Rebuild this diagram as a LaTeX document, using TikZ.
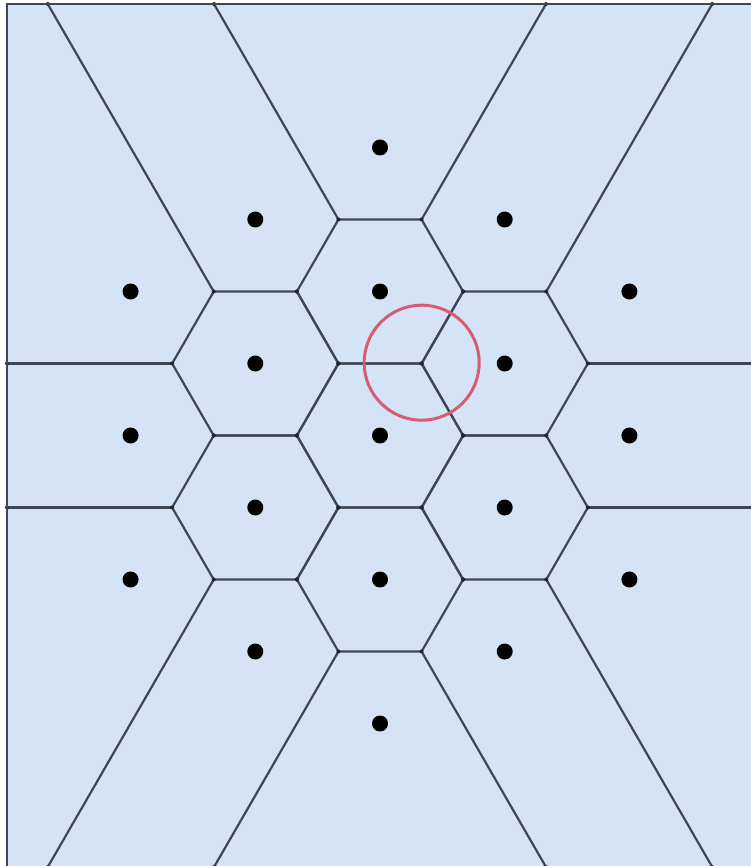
\documentclass[tikz,border=0pt]{standalone}
\definecolor{cellfill}{RGB}{213,227,246}
\definecolor{edgecol}{RGB}{62,71,86}
\definecolor{circcol}{RGB}{214,92,112}
\begin{document}
\begin{tikzpicture}[x=1pt,y=-1pt,
  edge/.style={draw=edgecol,line width=2.2pt,line cap=round,line join=round},
  border/.style={draw=edgecol,line width=2.4pt},
  site/.style={circle,fill=black,inner sep=0pt,minimum size=16pt},
  vtx/.style={circle,fill=black!85,inner sep=0pt,minimum size=4pt},
  ring/.style={draw=circcol,line width=3pt}]
\def\cx{380}\def\cy{435.5}\def\d{144}
\pgfmathsetmacro\h{\d*sqrt(3)/2}
\pgfmathsetmacro\R{\d/sqrt(3)}
\pgfmathsetmacro\rt{1/sqrt(3)}
\def\xl{7}\def\xr{753}\def\yt{4}\def\yb{867}
\useasboundingbox (0,0) rectangle (750,866);
\fill[cellfill] (\xl,\yt) rectangle (\xr,\yb);
% bounded hexagonal cells
\foreach \i/\j [count=\k] in {0/0,0/-1,0/1,-1/-0.5,-1/0.5,1/-0.5,1/0.5}{
  \pgfmathsetmacro\px{\cx+\i*\h}
  \pgfmathsetmacro\py{\cy+\j*\d}
  \coordinate (h\k-a) at ({\px+\R},{\py});
  \coordinate (h\k-b) at ({\px+\R/2},{\py+\d/2});
  \coordinate (h\k-c) at ({\px-\R/2},{\py+\d/2});
  \coordinate (h\k-d) at ({\px-\R},{\py});
  \coordinate (h\k-e) at ({\px-\R/2},{\py-\d/2});
  \coordinate (h\k-f) at ({\px+\R/2},{\py-\d/2});
  \draw[edge] (h\k-a) -- (h\k-b) -- (h\k-c) -- (h\k-d) -- (h\k-e) -- (h\k-f) -- cycle;
}
% unbounded rays
\foreach \sx in {-1,1}{
  \foreach \sy in {-1,1}{
    \pgfmathsetmacro\vxa{\cx+\sx*\R/2}
    \pgfmathsetmacro\vya{\cy+\sy*1.5*\d}
    \pgfmathsetmacro\eya{\sy<0 ? \yt : \yb}
    \pgfmathsetmacro\exa{\vxa+\sx*abs(\vya-\eya)*\rt}
    \pgfmathsetmacro\vxb{\cx+\sx*(\h+\R/2)}
    \pgfmathsetmacro\vyb{\cy+\sy*\d}
    \pgfmathsetmacro\exb{\vxb+\sx*abs(\vyb-\eya)*\rt}
    \pgfmathsetmacro\vxc{\cx+\sx*(\h+\R)}
    \pgfmathsetmacro\vyc{\cy+\sy*\d/2}
    \pgfmathsetmacro\exc{\sx<0 ? \xl : \xr}
    \coordinate (ra) at ({\vxa},{\vya}); \coordinate (rae) at ({\exa},{\eya});
    \coordinate (rb) at ({\vxb},{\vyb}); \coordinate (rbe) at ({\exb},{\eya});
    \coordinate (rc) at ({\vxc},{\vyc}); \coordinate (rce) at ({\exc},{\vyc});
    \draw[edge] (ra) -- (rae);
    \draw[edge] (rb) -- (rbe);
    \draw[edge] (rc) -- (rce);
    \node[vtx] at (rae) {};
    \node[vtx] at (rbe) {};
    \node[vtx] at (rce) {};
  }
}
\draw[border] (\xl,\yb) -- (\xl,\yt) -- (\xr,\yt);
\draw[border] (\xl,\yb) -- (\xr,\yb);
% Voronoi vertices
\foreach \k in {1,...,7}{
  \foreach \v in {a,b,c,d,e,f}{ \node[vtx] at (h\k-\v) {}; }
}
% sites
\foreach \i/\j [count=\k] in {0/0,0/-1,0/1,-1/-0.5,-1/0.5,1/-0.5,1/0.5,
   0/-2,0/2,-1/-1.5,-1/1.5,1/-1.5,1/1.5,-2/0,2/0,-2/-1,-2/1,2/-1,2/1}{
  \node[site] (p\k) at ({\cx+\i*\h},{\cy+\j*\d}) {};
}
% empty circle
\draw[ring] (h6-d) ++(0.1,-0.8) circle[radius=57.5];
\end{tikzpicture}
\end{document}
